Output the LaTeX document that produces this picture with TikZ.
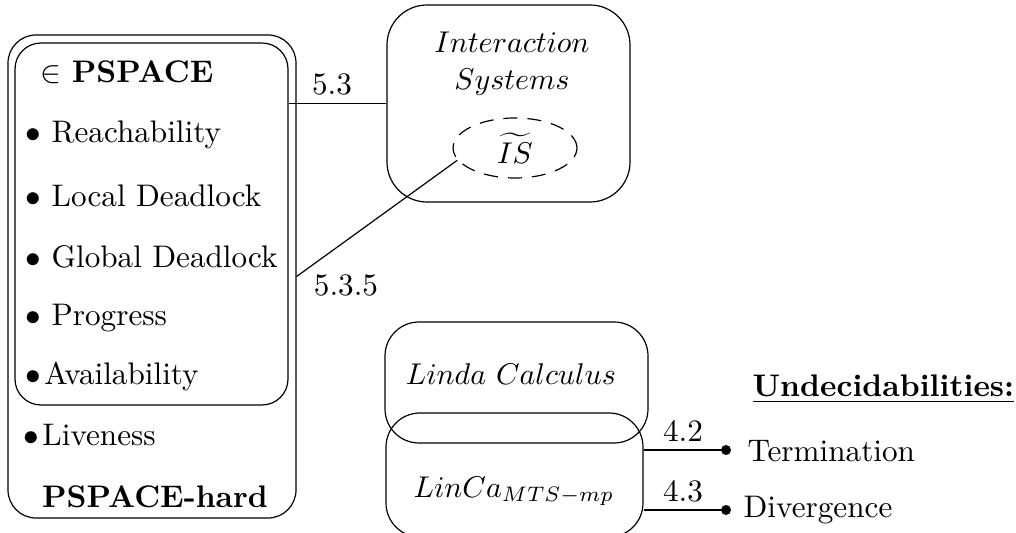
\documentclass[tikz,border=0pt]{standalone}
\usepackage{amsmath}
\usetikzlibrary{shapes.geometric}
\begin{document}
\begin{tikzpicture}[x=0.5pt,y=-0.5pt,
  box/.style={draw, line width=0.6pt, inner sep=0pt, rounded corners=#1},
  box/.default=14pt,
  txt/.style={anchor=base west, inner sep=0pt, scale=1.56},
  ctxt/.style={anchor=base, inner sep=0pt, scale=1.56},
  mtxt/.style={anchor=base, inner sep=0pt, scale=1.5},
  dotn/.style={circle, fill=black, inner sep=0pt, minimum size=5pt},
  conn/.style={line width=0.6pt}
]
\useasboundingbox (0,0) rectangle (1016,533);
% left boxes
\node[box=14pt, minimum width=144pt, minimum height=241.5pt] (outer) at (152,276.5) {};
\node[box=13pt, minimum width=136.5pt, minimum height=181pt] (inner) at (151.5,224) {};
\node[txt] (pspace) at (40,83) {$\in$ \textbf{PSPACE}};
\node[txt] (reach) at (25,143) {$\bullet$ Reachability};
\node[txt] (local) at (25,207) {$\bullet$ Local Deadlock};
\node[txt] (global) at (25,268) {$\bullet$ Global Deadlock};
\node[txt] (prog) at (25,326) {$\bullet$ Progress};
\node[txt] (avail) at (25,385) {$\bullet$\hspace{1pt}Availability};
\node[txt] (live) at (23,445) {$\bullet$\hspace{1pt}Liveness};
\node[ctxt] (hard) at (155,507) {\textbf{PSPACE-hard}};
% interaction systems
\node[box=20pt, minimum width=121.5pt, minimum height=98.5pt] (iact) at (508.5,103.5) {};
\node[mtxt] (iactt1) at (512,53) {$Interaction$};
\node[mtxt] (iactt2) at (512,90) {$Systems$};
\node[draw, ellipse, dashed, dash pattern=on 7pt off 5pt, line width=0.6pt,
      minimum width=41.3pt, minimum height=20pt, inner sep=0pt, scale=1.5] (is) at (515,148) {$\widetilde{IS}$};
% linda boxes
\node[box=17pt, minimum width=131.5pt, minimum height=60.5pt] (linda) at (516.5,382.5) {};
\node[mtxt] (lindat) at (511,385) {$Linda\ Calculus$};
\node[box=17pt, minimum width=128.5pt, minimum height=62pt] (linca) at (514.5,475) {};
\node[mtxt] (lincat) at (514,497) {$LinCa_{MTS-mp}$};
% connectors
\draw[conn] (inner.east |- iact.west) -- (iact.west);
\node[ctxt] (l53) at (332,95) {5.3};
\draw[conn] (outer.east) -- (is.192);
\node[ctxt] (l535) at (346,296) {5.3.5};
% undecidabilities
\node[txt] (und) at (752,397) {\underline{\textbf{Undecidabilities:}}};
\node[dotn] (d1) at (726,450) {};
\node[dotn] (d2) at (726,510) {};
\draw[conn] (d1 -| linca.east) -- (d1);
\draw[conn] (d2 -| linca.east) -- (d2);
\node[ctxt] (l42) at (683,442) {4.2};
\node[ctxt] (l43) at (683,502) {4.3};
\node[txt] (term) at (747,462) {Termination};
\node[txt] (div) at (743,517) {Divergence};
\end{tikzpicture}
\end{document}
